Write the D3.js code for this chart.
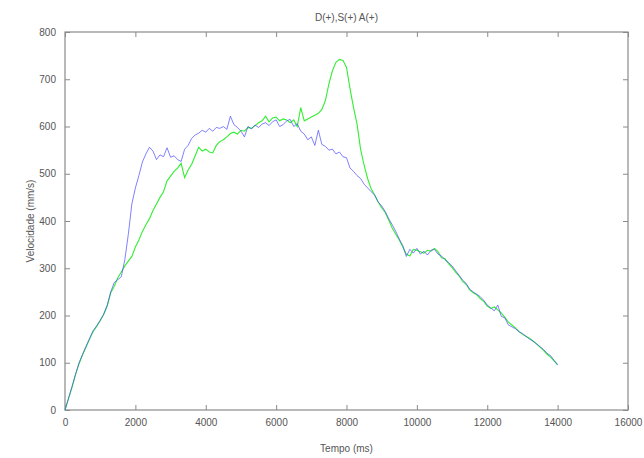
<!DOCTYPE html>
<html>
<head>
<meta charset="utf-8">
<script src="https://cdn.jsdelivr.net/npm/d3@7"></script>
<style>
  html, body { margin: 0; padding: 0; background: #fff; }
  svg { display: block; }
  text { font-family: "Liberation Sans", Arial, sans-serif; fill: #555; }
</style>
</head>
<body>
<svg id="chart" width="644" height="458"></svg>
<script>
const title = "D(+),S(+) A(+)";
const xLabel = "Tempo (ms)";
const yLabel = "Velocidade (mm/s)";
const xTicks = [0, 2000, 4000, 6000, 8000, 10000, 12000, 14000, 16000];
const yTicks = [0, 100, 200, 300, 400, 500, 600, 700, 800];

// time axis (ms), one sample every 100 ms
const tempo = [
  0,100,200,300,400,500,600,700,800,900,
  1000,1100,1200,1300,1400,1500,1600,1700,1800,1900,
  2000,2100,2200,2300,2400,2500,2600,2700,2800,2900,
  3000,3100,3200,3300,3400,3500,3600,3700,3800,3900,
  4000,4100,4200,4300,4400,4500,4600,4700,4800,4900,
  5000,5100,5200,5300,5400,5500,5600,5700,5800,5900,
  6000,6100,6200,6300,6400,6500,6600,6700,6800,6900,
  7000,7100,7200,7300,7400,7500,7600,7700,7800,7900,
  8000,8100,8200,8300,8400,8500,8600,8700,8800,8900,
  9000,9100,9200,9300,9400,9500,9600,9700,9800,9900,
  10000,10100,10200,10300,10400,10500,10600,10700,10800,10900,
  11000,11100,11200,11300,11400,11500,11600,11700,11800,11900,
  12000,12100,12200,12300,12400,12500,12600,12700,12800,12900,
  13000,13100,13200,13300,13400,13500,13600,13700,13800,13900,
  14000
];

// blue series
const serieAzul = [
  0,25,50,76,100,118,135,152,168,178,
  190,203,222,250,270,276,282,318,372,436,
  470,496,525,542,556,548,530,540,536,555,
  535,538,530,526,552,560,575,582,586,592,
  588,596,590,598,596,600,594,622,604,598,
  590,578,600,595,603,598,605,608,602,610,
  614,600,604,612,615,600,606,590,584,572,
  578,560,592,562,558,550,552,542,546,536,
  534,512,505,496,490,478,470,462,455,440,
  432,420,405,392,378,362,348,325,340,332,
  342,330,336,328,338,340,330,326,318,312,
  305,295,285,275,268,256,250,245,240,232,
  222,216,210,222,198,195,180,176,172,166,
  162,156,150,146,140,134,128,120,115,105,
  95
];

// green series
const serieVerde = [
  0,24,48,75,98,117,134,150,166,177,
  189,202,220,248,262,280,292,305,315,325,
  345,360,378,392,405,422,436,450,462,485,
  495,505,512,522,492,508,520,538,556,548,
  552,546,544,560,568,572,578,585,588,584,
  592,590,598,596,602,608,612,622,610,618,
  620,612,616,614,608,614,600,640,612,616,
  620,624,628,636,655,690,718,736,742,740,
  725,680,640,605,552,518,490,468,455,440,
  428,418,402,385,372,360,345,330,326,340,
  338,335,332,338,336,342,335,322,320,310,
  302,292,284,272,266,254,248,244,236,230,
  220,215,218,212,205,196,186,180,174,166,
  160,156,152,146,140,133,126,118,112,104,
  96
];

const svg = d3.select("#chart");
const margin = { left: 65, right: 16, top: 32, bottom: 48 };
const W = 644, H = 458;
const x = d3.scaleLinear().domain([0, 16000]).range([margin.left, W - margin.right]);
const y = d3.scaleLinear().domain([0, 800]).range([H - margin.bottom, margin.top]);

const axisColor = "#8a8a8a";
const tickLen = 5;

// frame
svg.append("rect")
  .attr("x", x(0)).attr("y", y(800))
  .attr("width", x(16000) - x(0)).attr("height", y(0) - y(800))
  .attr("fill", "none").attr("stroke", axisColor).attr("stroke-width", 1.2);

// axes with inward ticks on all four sides
const gBottom = svg.append("g").attr("transform", `translate(0,${y(0)})`)
  .call(d3.axisBottom(x).tickValues(xTicks).tickSizeInner(-tickLen).tickSizeOuter(0).tickPadding(9).tickFormat(d3.format("d")));
const gTop = svg.append("g").attr("transform", `translate(0,${y(800)})`)
  .call(d3.axisTop(x).tickValues(xTicks).tickSizeInner(-tickLen).tickSizeOuter(0).tickFormat(""));
const gLeft = svg.append("g").attr("transform", `translate(${x(0)},0)`)
  .call(d3.axisLeft(y).tickValues(yTicks).tickSizeInner(-tickLen).tickSizeOuter(0).tickPadding(9).tickFormat(d3.format("d")));
const gRight = svg.append("g").attr("transform", `translate(${x(16000)},0)`)
  .call(d3.axisRight(y).tickValues(yTicks).tickSizeInner(-tickLen).tickSizeOuter(0).tickFormat(""));

[gBottom, gTop, gLeft, gRight].forEach(g => {
  g.select(".domain").remove();
  g.selectAll(".tick line").attr("stroke", axisColor);
  g.selectAll(".tick text").attr("fill", "#555").style("font-size", "10px").style("font-family", "Liberation Sans, Arial, sans-serif");
});

// lines
const line = d3.line().x((d, i) => x(tempo[i])).y(d => y(d));
svg.append("path").datum(serieVerde)
  .attr("d", line).attr("fill", "none")
  .attr("stroke", "#33ee33").attr("stroke-width", 1.1);
svg.append("path").datum(serieAzul)
  .attr("d", line).attr("fill", "none")
  .attr("stroke", "#5050ff").attr("stroke-width", 0.9).attr("stroke-opacity", 0.8);

// texts
svg.append("text").attr("x", (x(0) + x(16000)) / 2).attr("y", 21)
  .attr("text-anchor", "middle").style("font-size", "10px").text(title);
svg.append("text").attr("x", (x(0) + x(16000)) / 2).attr("y", 452)
  .attr("text-anchor", "middle").style("font-size", "10px").text(xLabel);
svg.append("text")
  .attr("transform", `translate(34,${(y(0) + y(800)) / 2}) rotate(-90)`)
  .attr("text-anchor", "middle").style("font-size", "10px").text(yLabel);
</script>
</body>
</html>
